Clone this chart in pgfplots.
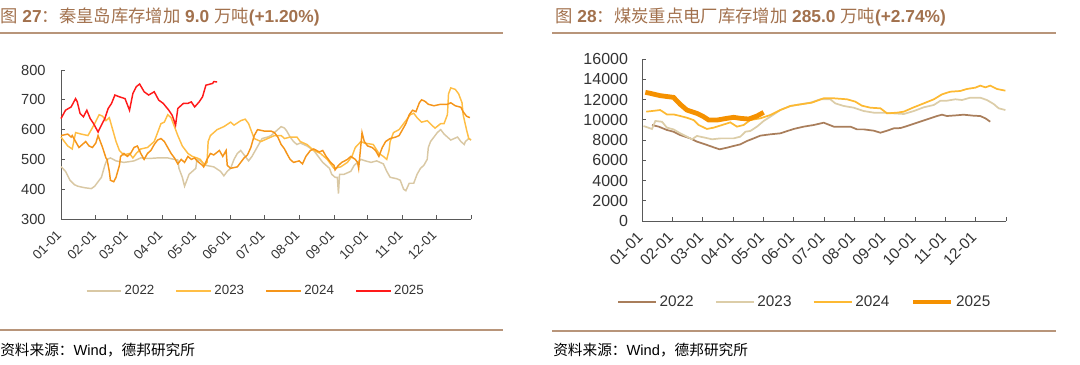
\documentclass[border=0pt]{standalone}
\usepackage{pgfplots}
\pgfplotsset{compat=1.18}
\usepackage{fontspec}
\setmainfont{Liberation Sans}
\newfontfamily\cjk{Noto Sans CJK SC}
\definecolor{titlec}{HTML}{A2714D}
\definecolor{rulec}{HTML}{B8957A}
\definecolor{axc}{HTML}{595959}
\definecolor{txtc}{HTML}{333333}
\definecolor{Lc22}{HTML}{D9C8A4}
\definecolor{Lc23}{HTML}{FFBE45}
\definecolor{Lc24}{HTML}{F5951A}
\definecolor{Lc25}{HTML}{FF1A1A}
\definecolor{Rc22}{HTML}{A97E5B}
\definecolor{Rc23}{HTML}{DCCDA8}
\definecolor{Rc24}{HTML}{FDB932}
\definecolor{Rc25}{HTML}{F59100}
\pgfplotsset{
  mystyle/.style={
    scale only axis,
    axis lines=left,
    axis line style={-, draw=axc, line width=0.6pt},
    tick align=inside,
    major tick length=3pt,
    tick style={draw=axc, line width=0.6pt},
    ytick pos=left, xtick pos=bottom,
    scaled y ticks=false,
    /pgf/number format/1000 sep={},
    /pgf/number format/assume math mode=true,
    tick label style={text=txtc},
    xticklabel style={yshift=-8pt, xshift=1pt, rotate=45, anchor=east},
    clip=false,
    legend cell align=left,
    legend image code/.code={\draw[#1] (0pt,0pt) -- (26pt,0pt);},
  }
}
\begin{document}
\begin{tikzpicture}[x=0.75pt,y=-0.75pt]
\useasboundingbox (0,0) rectangle (1080,364);
% titles
\node[anchor=west, inner sep=0, text=titlec, font=\fontsize{13}{15}\selectfont] at (0,17)
  {{\cjk 图} \textbf{27}{\cjk ：秦皇岛库存增加} \textbf{9.0} {\cjk 万吨}\textbf{(+1.20\%)}};
\node[anchor=west, inner sep=0, text=titlec, font=\fontsize{13}{15}\selectfont] at (555,17)
  {{\cjk 图} \textbf{28}{\cjk ：煤炭重点电厂库存增加} \textbf{285.0} {\cjk 万吨}\textbf{(+2.74\%)}};
\draw[rulec, line width=1.1pt] (0,33) -- (503,33);
\draw[rulec, line width=1.1pt] (552,33) -- (1056,33);
\draw[rulec, line width=1.1pt] (0,330) -- (503,330);
\draw[rulec, line width=1.1pt] (552,331) -- (1056,331);
\node[anchor=west, inner sep=0, text=black, font=\fontsize{11}{13}\selectfont] at (0,350)
  {{\cjk 资料来源：}Wind{\cjk ，德邦研究所}};
\node[anchor=west, inner sep=0, text=black, font=\fontsize{11}{13}\selectfont] at (553,350)
  {{\cjk 资料来源：}Wind{\cjk ，德邦研究所}};

% LEFT CHART
\begin{axis}[mystyle,
  at={(45.75pt,-164.25pt)}, anchor=south west,
  width=307.5pt, height=111.75pt,
  xmin=0, xmax=365, ymin=300, ymax=800,
  ytick={300,400,...,800},
  xtick={0,31,59,90,120,151,181,212,243,273,304,334,365},
  xticklabels={01-01,02-01,03-01,04-01,05-01,06-01,07-01,08-01,09-01,10-01,11-01,12-01,{}},
  xticklabel style={font=\fontsize{10}{12}\selectfont},
  yticklabel style={font=\fontsize{11}{13}\selectfont, xshift=-8pt},
  legend columns=4,
  legend style={draw=none, fill=none, at={(0.476,-0.483)}, anchor=center,
    font=\fontsize{10}{12}\selectfont, text=txtc,
    /tikz/every even column/.append style={column sep=14pt}},
]
\addplot[Lc22, line width=1.1pt] coordinates {
(0,476)(4,460)(8,430)(12,415)(15,410)(21,405)(27,402)(30,410)(33,425)(36,440)(39,480)(41,500)(44,505)(49,495)(56,490)(60,492)(65,495)(71,505)(78,503)(86,505)(95,505)(101,500)(104,498)(105,470)(108,440)(110,410)(111,420)(114,450)(117,460)(120,470)(121,500)(124,495)(129,480)(136,475)(142,460)(145,445)(148,460)(151,470)(154,500)(157,520)(160,530)(166,500)(167,495)(170,510)(173,530)(176,550)(179,570)(184,575)(187,580)(190,590)(193,600)(196,610)(199,605)(201,595)(204,575)(207,560)(210,550)(213,555)(219,545)(225,530)(230,505)(233,490)(239,470)(241,450)(244,440)(246,440)(247,385)(248,450)(252,450)(255,455)(258,460)(261,480)(264,490)(267,500)(271,495)(276,490)(281,495)(284,490)(287,485)(290,460)(293,440)(299,435)(302,430)(305,400)(307,395)(310,420)(314,420)(317,450)(320,470)(323,480)(326,500)(327,540)(329,560)(332,575)(335,590)(338,600)(341,585)(344,575)(347,565)(350,570)(353,575)(356,560)(359,550)(360,560)(363,570)(365,565)
};
\addlegendentry{2022}
\addplot[Lc23, line width=1.1pt] coordinates {
(0,575)(3,560)(6,545)(10,535)(13,590)(18,585)(24,580)(27,600)(30,620)(34,650)(37,645)(40,630)(43,640)(46,600)(49,560)(52,530)(56,515)(61,520)(64,505)(67,520)(71,535)(77,540)(83,560)(86,590)(89,620)(92,625)(95,650)(98,640)(101,610)(104,580)(108,545)(113,520)(117,510)(121,505)(124,500)(128,480)(130,490)(131,560)(133,580)(139,600)(145,610)(151,625)(154,615)(160,630)(164,635)(167,620)(169,600)(172,570)(178,560)(184,570)(190,580)(196,580)(199,570)(204,575)(210,575)(213,560)(219,550)(225,530)(231,520)(237,500)(243,470)(249,475)(255,490)(259,510)(262,540)(267,560)(270,555)(278,550)(283,520)(287,510)(290,500)(292,530)(293,560)(296,590)(301,600)(305,620)(311,650)(314,655)(317,640)(321,625)(326,630)(330,615)(333,605)(338,620)(341,620)(344,650)(345,720)(347,740)(351,735)(354,720)(357,690)(358,650)(361,600)(363,570)(365,565)
};
\addlegendentry{2023}
\addplot[Lc24, line width=1.1pt] coordinates {
(0,580)(6,585)(9,575)(10,580)(13,560)(16,540)(19,550)(22,560)(25,545)(28,540)(31,555)(33,580)(34,570)(37,540)(40,505)(41,500)(43,460)(44,430)(47,425)(49,440)(52,480)(53,510)(56,520)(59,510)(62,520)(65,540)(68,545)(71,520)(74,500)(77,520)(80,530)(83,550)(86,565)(89,570)(92,560)(95,540)(98,520)(101,505)(104,485)(107,500)(110,490)(113,510)(116,500)(119,505)(121,495)(126,480)(127,475)(130,500)(133,520)(136,515)(141,530)(144,510)(147,530)(148,480)(151,470)(157,475)(160,490)(163,505)(166,515)(169,540)(172,580)(175,600)(181,595)(187,595)(190,590)(193,575)(196,550)(199,535)(201,520)(204,500)(207,490)(212,495)(215,485)(218,510)(222,530)(225,535)(230,525)(233,530)(236,510)(240,490)(243,480)(244,465)(247,480)(250,490)(255,500)(258,510)(262,500)(264,490)(265,470)(268,590)(270,560)(273,545)(277,540)(280,530)(283,510)(286,540)(289,560)(293,570)(298,575)(301,580)(304,600)(307,620)(310,650)(313,665)(316,660)(319,690)(321,700)(324,695)(327,685)(332,680)(338,685)(344,685)(347,690)(351,680)(356,675)(358,660)(361,645)(364,640)
};
\addlegendentry{2024}
\addplot[Lc25, line width=1.1pt] coordinates {
(0,637)(4,665)(9,676)(13,704)(14.5,693)(17,654)(20,643)(23,665)(26,637)(29,620)(33,592)(36,615)(39,637)(42,671)(45,688)(48,716)(52,710)(57,704)(61,665)(64,721)(67,744)(70,753)(74,727)(78,716)(83,727)(87,699)(91,688)(96,665)(99,648)(102,615)(104,671)(109,688)(113,688)(116,693)(119,676)(123,693)(126,710)(129,749)(132,752)(135,755)(136,761)(139,760)
};
\addlegendentry{2025}
\end{axis}

% RIGHT CHART
\begin{axis}[mystyle,
  at={(481.5pt,-165.75pt)}, anchor=south west,
  width=273pt, height=121.5pt,
  xmin=0, xmax=12, ymin=0, ymax=16000,
  ytick={0,2000,...,16000},
  xtick={0,1,...,12},
  xticklabels={01-01,02-01,03-01,04-01,05-01,06-01,07-01,08-01,09-01,10-01,11-01,12-01,{}},
  xticklabel style={font=\fontsize{11.5}{13}\selectfont},
  yticklabel style={font=\fontsize{12}{14}\selectfont, xshift=-7pt},
  legend columns=4,
  legend image code/.code={\draw[#1] (0pt,0pt) -- (28.5pt,0pt);},
  legend style={draw=none, fill=none, at={(0.448,-0.5)}, anchor=center,
    font=\fontsize{11.5}{13}\selectfont, text=txtc,
    /tikz/every even column/.append style={column sep=14pt}},
]
\addplot[Rc22, line width=1.3pt] coordinates {
(0.33,9480)(0.55,9320)(0.82,8990)(1.04,8820)(1.26,8490)(1.59,8160)(1.81,7840)(2.14,7510)(2.36,7280)(2.56,7080)(2.80,7240)(3.02,7410)(3.24,7570)(3.46,7900)(3.68,8160)(3.90,8430)(4.23,8560)(4.56,8660)(5.00,9090)(5.33,9320)(5.66,9480)(5.99,9710)(6.32,9320)(6.87,9320)(7.09,9050)(7.31,9050)(7.64,8920)(7.86,8720)(8.08,8920)(8.30,9150)(8.52,9180)(8.74,9380)(9.07,9710)(9.40,10040)(9.73,10370)(9.89,10500)(10.05,10370)(10.38,10440)(10.60,10500)(10.93,10400)(11.15,10370)(11.32,10140)(11.48,9810)
};
\addlegendentry{2022}
\addplot[Rc23, line width=1.3pt] coordinates {
(0.05,9380)(0.33,9090)(0.44,9880)(0.66,9800)(0.82,9220)(1.04,9050)(1.26,8660)(1.48,8330)(1.65,8070)(1.81,8400)(2.03,8260)(2.31,8070)(2.58,8160)(3.02,8160)(3.24,8330)(3.41,8820)(3.57,8890)(3.79,9320)(4.01,9880)(4.23,10300)(4.56,10960)(4.89,11360)(5.22,11520)(5.55,11690)(5.88,12020)(6.21,12020)(6.37,11620)(6.65,11360)(6.98,11190)(7.31,10860)(7.64,10700)(7.97,10700)(8.30,10630)(8.63,10570)(8.96,10860)(9.29,11230)(9.62,11460)(9.84,11880)(10.05,11880)(10.33,12020)(10.55,11950)(10.82,12180)(11.15,12180)(11.37,11950)(11.59,11560)(11.76,11130)(11.98,10960)
};
\addlegendentry{2023}
\addplot[Rc24, line width=1.3pt] coordinates {
(0.14,10800)(0.44,10900)(0.60,10960)(0.82,10530)(1.04,10530)(1.26,10370)(1.48,10200)(1.70,9970)(1.87,9480)(2.14,9090)(2.36,9220)(2.64,9480)(2.91,9740)(3.13,9320)(3.35,9480)(3.57,9970)(3.90,10140)(4.23,10470)(4.56,10960)(4.89,11360)(5.22,11520)(5.60,11690)(5.99,12120)(6.32,12120)(6.76,12020)(7.03,11790)(7.25,11390)(7.53,11190)(7.86,11130)(8.08,10630)(8.41,10700)(8.63,10800)(8.96,11230)(9.29,11620)(9.62,12020)(9.89,12510)(10.16,12770)(10.49,12840)(10.71,13040)(10.99,13170)(11.15,13370)(11.32,13200)(11.48,13370)(11.70,13040)(11.98,12870)
};
\addlegendentry{2024}
\addplot[Rc25, line width=3.6pt] coordinates {
(0.11,12710)(0.27,12610)(0.60,12380)(1.04,12210)(1.26,11520)(1.48,10960)(1.81,10630)(2.03,10300)(2.20,9970)(2.47,9970)(2.80,10140)(3.02,10240)(3.24,10140)(3.52,10070)(3.79,10370)(4.01,10730)
};
\addlegendentry{2025}
\end{axis}
\end{tikzpicture}
\end{document}
